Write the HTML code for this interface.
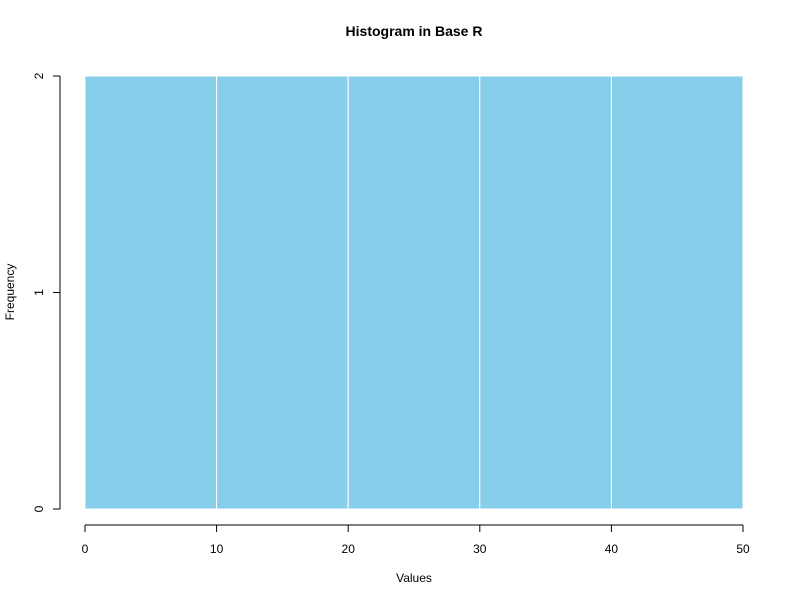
<!DOCTYPE html>
<html><head><meta charset="utf-8"><style>
body{margin:0;background:#fff;}
svg text{font-family:"Liberation Sans",Arial,sans-serif;fill:#000;}
</style></head><body>
<svg id="chart" width="800" height="600" xmlns="http://www.w3.org/2000/svg">
<text x="414" y="36" text-anchor="middle" font-size="14" font-weight="bold">Histogram in Base R</text>
<text x="414" y="582" text-anchor="middle" font-size="12">Values</text>
<text transform="translate(14,292) rotate(-90)" text-anchor="middle" font-size="12">Frequency</text>
<g id="bars"></g><g id="xaxis"></g><g id="yaxis"></g>
</svg>
<script>
const binEdges=[0,10,20,30,40,50];
const counts=[2,2,2,2,2];
const xTicks=[0,10,20,30,40,50];
const yTicks=[0,1,2];
const NS="http://www.w3.org/2000/svg";
function sx(v){return 85+(v-0)/(50-0)*(743-85);}
function sy(v){return 509-(v-0)/(2-0)*(509-76);}
function mk(t,a,p){const e=document.createElementNS(NS,t);for(const k in a)e.setAttribute(k,a[k]);p.appendChild(e);return e;}
const bars=document.getElementById('bars');
counts.forEach((c,i)=>{
 const r=mk('rect',{x:sx(binEdges[i]),y:sy(c),width:sx(binEdges[i+1])-sx(binEdges[i]),height:sy(0)-sy(c),fill:'#87CEEB',stroke:'#ffffff','stroke-width':1},bars);
 
 
});
const xa=document.getElementById('xaxis');
const xl=mk('line',{x1:sx(xTicks[0]),x2:sx(xTicks[xTicks.length-1]),y1:525,y2:525,stroke:'#000'},xa);


xTicks.forEach(t=>{
 mk('line',{x1:sx(t),x2:sx(t),y1:525,y2:532,stroke:'#000'},xa);
 const tx=mk('text',{x:sx(t),y:553,'text-anchor':'middle','font-size':12},xa);
 tx.textContent=t;
 
 
});
const ya=document.getElementById('yaxis');
const yl=mk('line',{x1:60,x2:60,y1:sy(yTicks[0]),y2:sy(yTicks[yTicks.length-1]),stroke:'#000'},ya);


yTicks.forEach(t=>{
 mk('line',{x1:53,x2:60,y1:sy(t),y2:sy(t),stroke:'#000'},ya);
 const tx=mk('text',{transform:'translate(43,'+sy(t)+') rotate(-90)','text-anchor':'middle','font-size':12},ya);
 tx.textContent=t;
 
 
});
</script>
</body></html>
